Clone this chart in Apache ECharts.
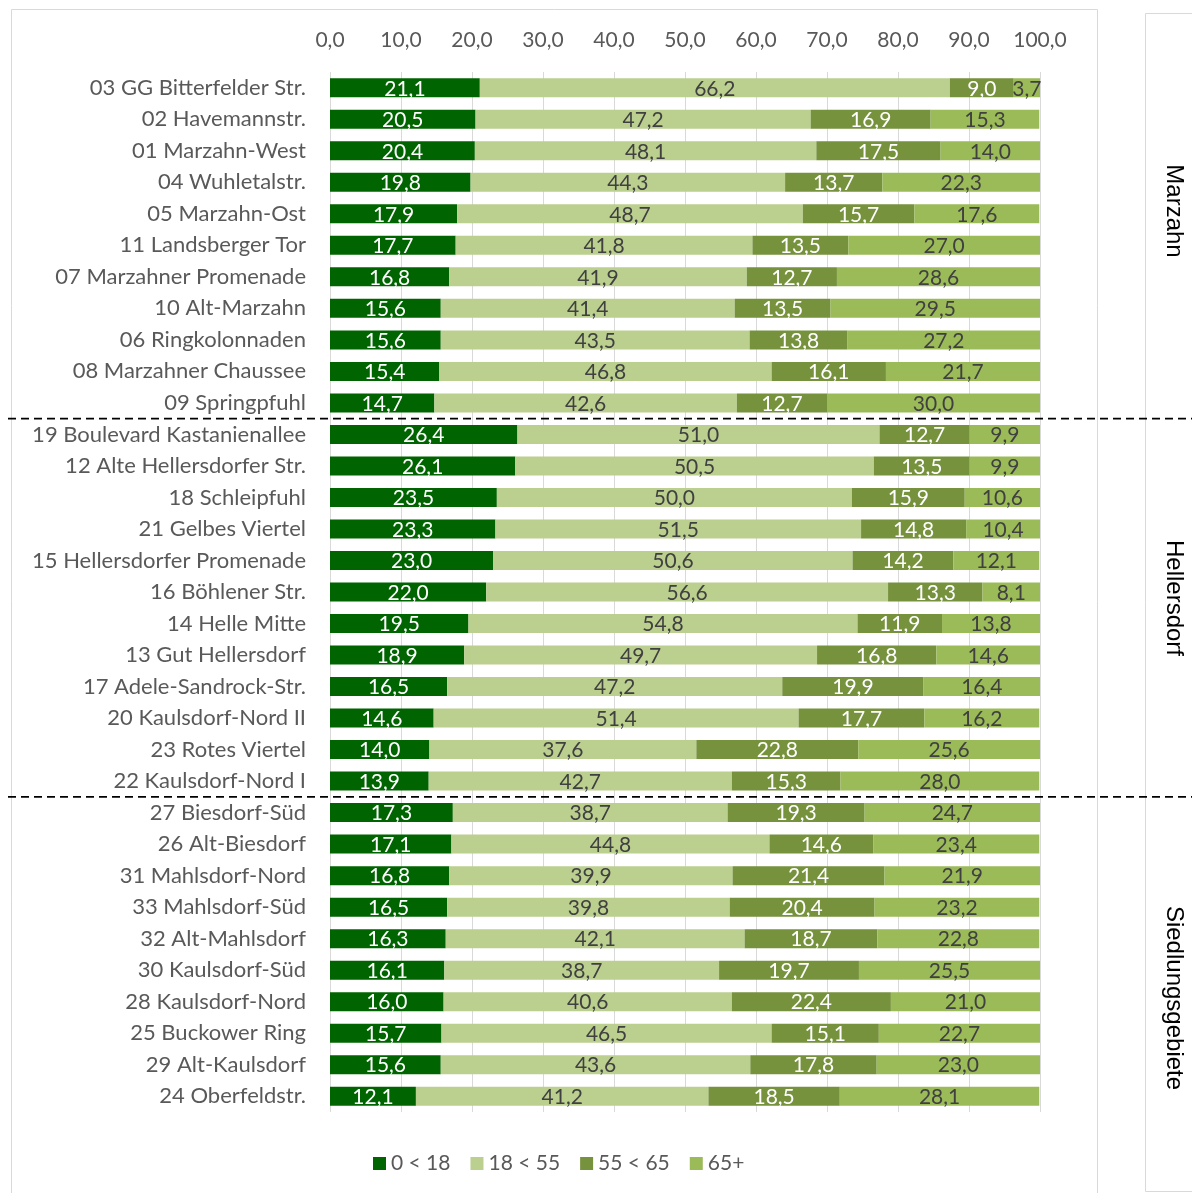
<!DOCTYPE html>
<html><head><meta charset="utf-8">
<script src="https://cdn.jsdelivr.net/npm/echarts@6/dist/echarts.min.js"></script>
<style>html,body{margin:0;padding:0;background:#fff}#c{width:1192px;height:1193px}</style>
</head><body><div id="c"></div>
<script>
const categories = [
 "03 GG Bitterfelder Str.","02 Havemannstr.","01 Marzahn-West","04 Wuhletalstr.","05 Marzahn-Ost","11 Landsberger Tor","07 Marzahner Promenade","10 Alt-Marzahn","06 Ringkolonnaden","08 Marzahner Chaussee","09 Springpfuhl",
 "19 Boulevard Kastanienallee","12 Alte Hellersdorfer Str.","18 Schleipfuhl","21 Gelbes Viertel","15 Hellersdorfer Promenade","16 Böhlener Str.","14 Helle Mitte","13 Gut Hellersdorf","17 Adele-Sandrock-Str.","20 Kaulsdorf-Nord II","23 Rotes Viertel","22 Kaulsdorf-Nord I",
 "27 Biesdorf-Süd","26 Alt-Biesdorf","31 Mahlsdorf-Nord","33 Mahlsdorf-Süd","32 Alt-Mahlsdorf","30 Kaulsdorf-Süd","28 Kaulsdorf-Nord","25 Buckower Ring","29 Alt-Kaulsdorf","24 Oberfeldstr."
];
const age0_18 = [21.1,20.5,20.4,19.8,17.9,17.7,16.8,15.6,15.6,15.4,14.7, 26.4,26.1,23.5,23.3,23.0,22.0,19.5,18.9,16.5,14.6,14.0,13.9, 17.3,17.1,16.8,16.5,16.3,16.1,16.0,15.7,15.6,12.1];
const age18_55 = [66.2,47.2,48.1,44.3,48.7,41.8,41.9,41.4,43.5,46.8,42.6, 51.0,50.5,50.0,51.5,50.6,56.6,54.8,49.7,47.2,51.4,37.6,42.7, 38.7,44.8,39.9,39.8,42.1,38.7,40.6,46.5,43.6,41.2];
const age55_65 = [9.0,16.9,17.5,13.7,15.7,13.5,12.7,13.5,13.8,16.1,12.7, 12.7,13.5,15.9,14.8,14.2,13.3,11.9,16.8,19.9,17.7,22.8,15.3, 19.3,14.6,21.4,20.4,18.7,19.7,22.4,15.1,17.8,18.5];
const age65 = [3.7,15.3,14.0,22.3,17.6,27.0,28.6,29.5,27.2,21.7,30.0, 9.9,9.9,10.6,10.4,12.1,8.1,13.8,14.6,16.4,16.2,25.6,28.0, 24.7,23.4,21.9,23.2,22.8,25.5,21.0,22.7,23.0,28.1];
const seriesNames = ["0 < 18","18 < 55","55 < 65","65+"];
const groups = [
 {name:"Marzahn", first:0, last:10},
 {name:"Hellersdorf", first:11, last:22},
 {name:"Siedlungsgebiete", first:23, last:32}
];
const colors = ["#006400","#BBCF8F","#76923C","#9BBB59"];
const labelColors = ["#ffffff","#404040","#ffffff","#404040"];
const FONT = "Lato";

const chart = echarts.init(document.getElementById('c'));
const dataArr = [age0_18, age18_55, age55_65, age65];
const fmt = v => v.toFixed(1).replace('.', ',');
chart.setOption({
  animation:false,
  textStyle:{fontFamily:FONT},
  grid:{left:330,right:152,top:72,bottom:81,containLabel:false},
  xAxis:{type:'value',position:'top',min:0,max:100,interval:10,
    axisLabel:{formatter:v=>fmt(v),color:'#595959',fontSize:21,fontFamily:FONT,margin:21},
    axisLine:{show:false},axisTick:{show:false},
    splitLine:{lineStyle:{color:'#d9d9d9',width:1}}},
  yAxis:{type:'category',data:categories,inverse:true,
    axisLabel:{color:'#595959',fontSize:22,fontFamily:FONT,margin:24},
    axisLine:{show:false},axisTick:{show:false}},
  legend:{left:368,top:1148,icon:'rect',itemWidth:13,itemHeight:13,itemGap:20,
    textStyle:{color:'#595959',fontSize:21,fontFamily:FONT},data:seriesNames},
  series: seriesNames.map((n,i)=>({
    name:n,type:'bar',stack:'all',barWidth:19,
    itemStyle:{color:colors[i]},
    label:{show:true,position:'inside',color:labelColors[i],fontSize:21,fontFamily:FONT,offset:[0,1],formatter:p=>fmt(p.value)},
    data:dataArr[i]
  }))
});

// decorations from axis scale
const g = [];
g.push({type:'rect',shape:{x:11.5,y:9.5,width:1086,height:1200},style:{fill:null,stroke:'#d9d9d9',lineWidth:1},silent:true});
g.push({type:'rect',shape:{x:1145.5,y:13.5,width:60,height:1178},style:{fill:null,stroke:'#d9d9d9',lineWidth:1},silent:true});
const py = i => chart.convertToPixel({yAxisIndex:0}, i);
for (let k=0;k<groups.length-1;k++){
  const y = (py(groups[k].last)+py(groups[k+1].first))/2;
  g.push({type:'line',shape:{x1:8,y1:y,x2:1192,y2:y},style:{stroke:'#000',lineWidth:1.6,lineDash:[8,5]},silent:true,z:100});
}
const labelY = [211,598,998];
groups.forEach((gr,k)=>{
  g.push({type:'text',x:1174,y:labelY[k],rotation:-Math.PI/2,
    style:{text:gr.name,fill:'#000',font:'24px "Liberation Sans", Arial',align:'center',verticalAlign:'middle'},silent:true});
});
chart.setOption({graphic:g});
</script>
</body></html>
